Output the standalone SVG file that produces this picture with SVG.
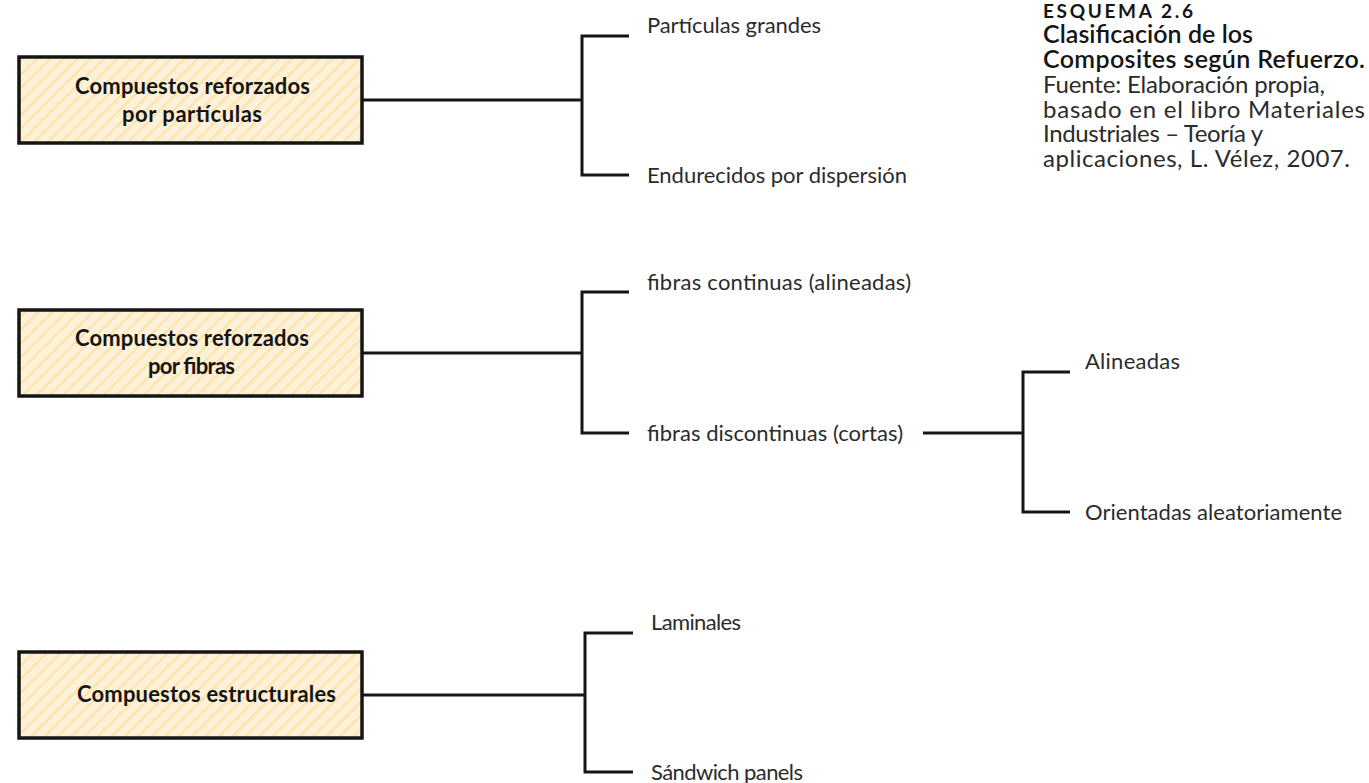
<svg xmlns="http://www.w3.org/2000/svg" width="1369" height="783" viewBox="0 0 1369 783">
  <defs>
    <pattern id="hatch" patternUnits="userSpaceOnUse" width="9.5" height="9.5" patternTransform="rotate(45)">
      <rect width="9.5" height="9.5" fill="#fdf1da"/>
      <line x1="1" y1="0" x2="1" y2="9.5" stroke="#fde2a2" stroke-width="2"/>
    </pattern>
    <style>
      .box { fill: url(#hatch); stroke: #151515; stroke-width: 3.5; }
      .btxt { font-family: Lato, "Liberation Sans", sans-serif; font-weight: bold; font-size: 22px; fill: #151515; }
      .lbl { font-family: Lato, "Liberation Sans", sans-serif; font-size: 22px; fill: #2b2b2b; }
      .conn { fill: none; stroke: #151515; stroke-width: 3; }
      .cap { font-family: Lato, "Liberation Sans", sans-serif; font-size: 24px; fill: #2b2b2b; }
      .capt { font-family: Lato, "Liberation Sans", sans-serif; font-size: 25px; font-weight: 600; fill: #151515; }
      .capk { font-family: Lato, "Liberation Sans", sans-serif; font-size: 19px; font-weight: bold; fill: #151515; }
    </style>
  </defs>
  <rect width="1369" height="783" fill="#ffffff"/>

  <g id="connectors">
    <path class="conn" d="M362 100 H582 M629 36 H582 V175 H629"/>
    <path class="conn" d="M362 353 H582 M629 292 H582 V433 H629"/>
    <path class="conn" d="M923 433 H1023 M1070 372 H1023 V512 H1070"/>
    <path class="conn" d="M362 695 H585 M633 633 H585 V772 H633"/>
  </g>

  <g id="node-particulas">
    <rect class="box" x="19" y="57" width="343" height="86"/>
    <text class="btxt" x="75" y="94" textLength="235" lengthAdjust="spacing">Compuestos reforzados</text>
    <text class="btxt" x="122" y="122" textLength="140" lengthAdjust="spacing">por partículas</text>
  </g>
  <g id="node-fibras">
    <rect class="box" x="19" y="310" width="343" height="86"/>
    <text class="btxt" x="75" y="346" textLength="234" lengthAdjust="spacing">Compuestos reforzados</text>
    <text class="btxt" x="148" y="374" textLength="87" lengthAdjust="spacing">por fibras</text>
  </g>
  <g id="node-estructurales">
    <rect class="box" x="19" y="652" width="343" height="86"/>
    <text class="btxt" x="77" y="702" textLength="259" lengthAdjust="spacing">Compuestos estructurales</text>
  </g>

  <g id="leaf-particulas-grandes"><text class="lbl" x="647" y="33" textLength="174" lengthAdjust="spacing">Partículas grandes</text></g>
  <g id="leaf-endurecidos"><text class="lbl" x="647" y="183" textLength="260" lengthAdjust="spacing">Endurecidos por dispersión</text></g>
  <g id="leaf-fibras-continuas"><text class="lbl" x="647" y="290" textLength="264" lengthAdjust="spacing">fibras continuas (alineadas)</text></g>
  <g id="leaf-fibras-discontinuas"><text class="lbl" x="647" y="441" textLength="256" lengthAdjust="spacing">fibras discontinuas (cortas)</text></g>
  <g id="leaf-alineadas"><text class="lbl" x="1085" y="369" textLength="95" lengthAdjust="spacing">Alineadas</text></g>
  <g id="leaf-orientadas"><text class="lbl" x="1085" y="520" textLength="257" lengthAdjust="spacing">Orientadas aleatoriamente</text></g>
  <g id="leaf-laminales"><text class="lbl" x="651" y="630" textLength="90" lengthAdjust="spacing">Laminales</text></g>
  <g id="leaf-sandwich"><text class="lbl" x="651" y="780" textLength="152" lengthAdjust="spacing">Sándwich panels</text></g>

  <g id="caption">
    <text class="capk" x="1043" y="18" textLength="150" lengthAdjust="spacing">ESQUEMA 2.6</text>
    <text class="capt" x="1043" y="43" textLength="210" lengthAdjust="spacing">Clasificación de los</text>
    <text class="capt" x="1043" y="68" textLength="322" lengthAdjust="spacing">Composites según Refuerzo.</text>
    <text class="cap" x="1043" y="93" textLength="282" lengthAdjust="spacing">Fuente: Elaboración propia,</text>
    <text class="cap" x="1043" y="118" textLength="322" lengthAdjust="spacing">basado en el libro Materiales</text>
    <text class="cap" x="1043" y="142" textLength="220" lengthAdjust="spacing">Industriales – Teoría y</text>
    <text class="cap" x="1043" y="167" textLength="307" lengthAdjust="spacing">aplicaciones, L. Vélez, 2007.</text>
  </g>
</svg>
